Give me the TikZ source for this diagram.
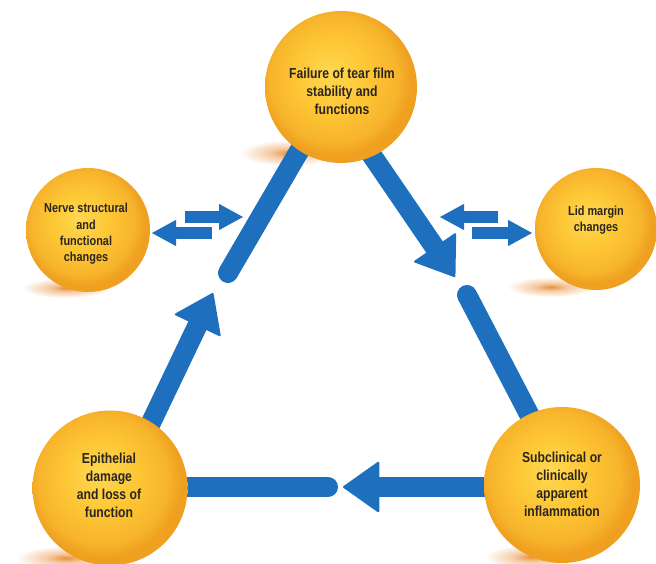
\documentclass[tikz,border=0pt]{standalone}
\usepackage{fontspec}
\newfontfamily\labfont[FakeStretch=0.84]{Liberation Sans}
\usetikzlibrary{arrows.meta}
\definecolor{flow}{HTML}{1F6FBF}
\definecolor{orbA}{HTML}{FFD851}
\definecolor{orbB}{HTML}{FDC634}
\definecolor{orbD}{HTML}{F7B42C}
\definecolor{orbC}{HTML}{EFA020}
\definecolor{txt}{HTML}{2A2520}
\definecolor{shd}{HTML}{E8923A}
\definecolor{shdB}{HTML}{F4C9A0}
\pgfdeclareradialshading{orb}{\pgfpoint{-4bp}{5bp}}{color(0bp)=(orbA); color(12bp)=(orbB); color(21bp)=(orbD); color(25bp)=(orbC); color(50bp)=(orbC)}
\pgfdeclareradialshading{glow}{\pgfpoint{0bp}{0bp}}{color(0bp)=(shd); color(9bp)=(shdB); color(25bp)=(white); color(50bp)=(white)}
\tikzset{
  orbnode/.style={circle, shading=orb, inner sep=0pt},
  biglab/.style={text=txt, align=center, inner sep=0pt, font=\labfont\bfseries\fontsize{14.5}{18}\selectfont},
  smalllab/.style={text=txt, align=center, inner sep=0pt, font=\labfont\bfseries\fontsize{13}{16.3}\selectfont},
  flowline/.style={draw=flow, line width=20pt, line cap=round},
  flowarrow/.style={draw=flow, line width=20pt, -{Triangle[width=52pt,length=37pt,line width=2pt,round]}},
  twin/.style={draw=flow, line width=12pt, -{Triangle[width=26pt,length=24pt,line width=1pt]}},
  shadow/.style={shading=glow}
}
\begin{document}
\begin{tikzpicture}[x=1pt,y=-1pt]
\useasboundingbox (0,0) rectangle (656,564);
% ground shadows
\shade[shadow] (288,153) ellipse (48pt and 13pt);
\shade[shadow] (66,288) ellipse (44pt and 10pt);
\shade[shadow] (551,287) ellipse (44pt and 10pt);
\shade[shadow] (66,558) ellipse (50pt and 12pt);
\shade[shadow] (531,557) ellipse (46pt and 12pt);
% connector end points
\coordinate (blS) at (137,452); \coordinate (lTip) at (213,293);
\coordinate (topL) at (319,117); \coordinate (lEnd) at (228,273);
\coordinate (topR) at (345,116); \coordinate (rTip) at (455,277);
\coordinate (rStart) at (467,295); \coordinate (brN) at (543,441);
\coordinate (blE) at (150,487); \coordinate (bEnd) at (328,487);
\coordinate (brW) at (520,487); \coordinate (bTip) at (343,487);
\coordinate (nA1) at (185,217); \coordinate (nA2) at (243,217);
\coordinate (nB1) at (212,233); \coordinate (nB2) at (152,233);
\coordinate (lA1) at (498,217); \coordinate (lA2) at (440,217);
\coordinate (lB1) at (472,233); \coordinate (lB2) at (532,233);
% cycle
\draw[flowarrow] (blS) -- (lTip);
\draw[flowline] (topL) -- (lEnd);
\draw[flowarrow] (topR) -- (rTip);
\draw[flowline] (rStart) -- (brN);
\draw[flowline] (blE) -- (bEnd);
\draw[flowarrow] (brW) -- (bTip);
% side exchanges
\draw[twin] (nA1) -- (nA2);
\draw[twin] (nB1) -- (nB2);
\draw[twin] (lA1) -- (lA2);
\draw[twin] (lB1) -- (lB2);
% balls
\node[orbnode, minimum size=152pt] (failure) at (341,87) {};
\node[orbnode, minimum size=124pt] (nerve) at (88,230) {};
\node[orbnode, minimum size=122pt] (lid) at (596,229) {};
\node[orbnode, minimum size=155pt] (epith) at (110,488) {};
\node[orbnode, minimum size=156pt] (inflam) at (562,485) {};
% labels
\node[biglab] (failure-t) at (342,91) {Failure of tear film\\stability and\\functions};
\node[smalllab] (nerve-t) at (86,234) {Nerve structural\\and\\functional\\changes};
\node[smalllab] (lid-t) at (596,220) {Lid margin\\changes};
\node[biglab] (epith-t) at (109,485) {Epithelial\\damage\\and loss of\\function};
\node[biglab] (inflam-t) at (562,484) {Subclinical or\\clinically\\apparent\\inflammation};
\end{tikzpicture}
\end{document}
